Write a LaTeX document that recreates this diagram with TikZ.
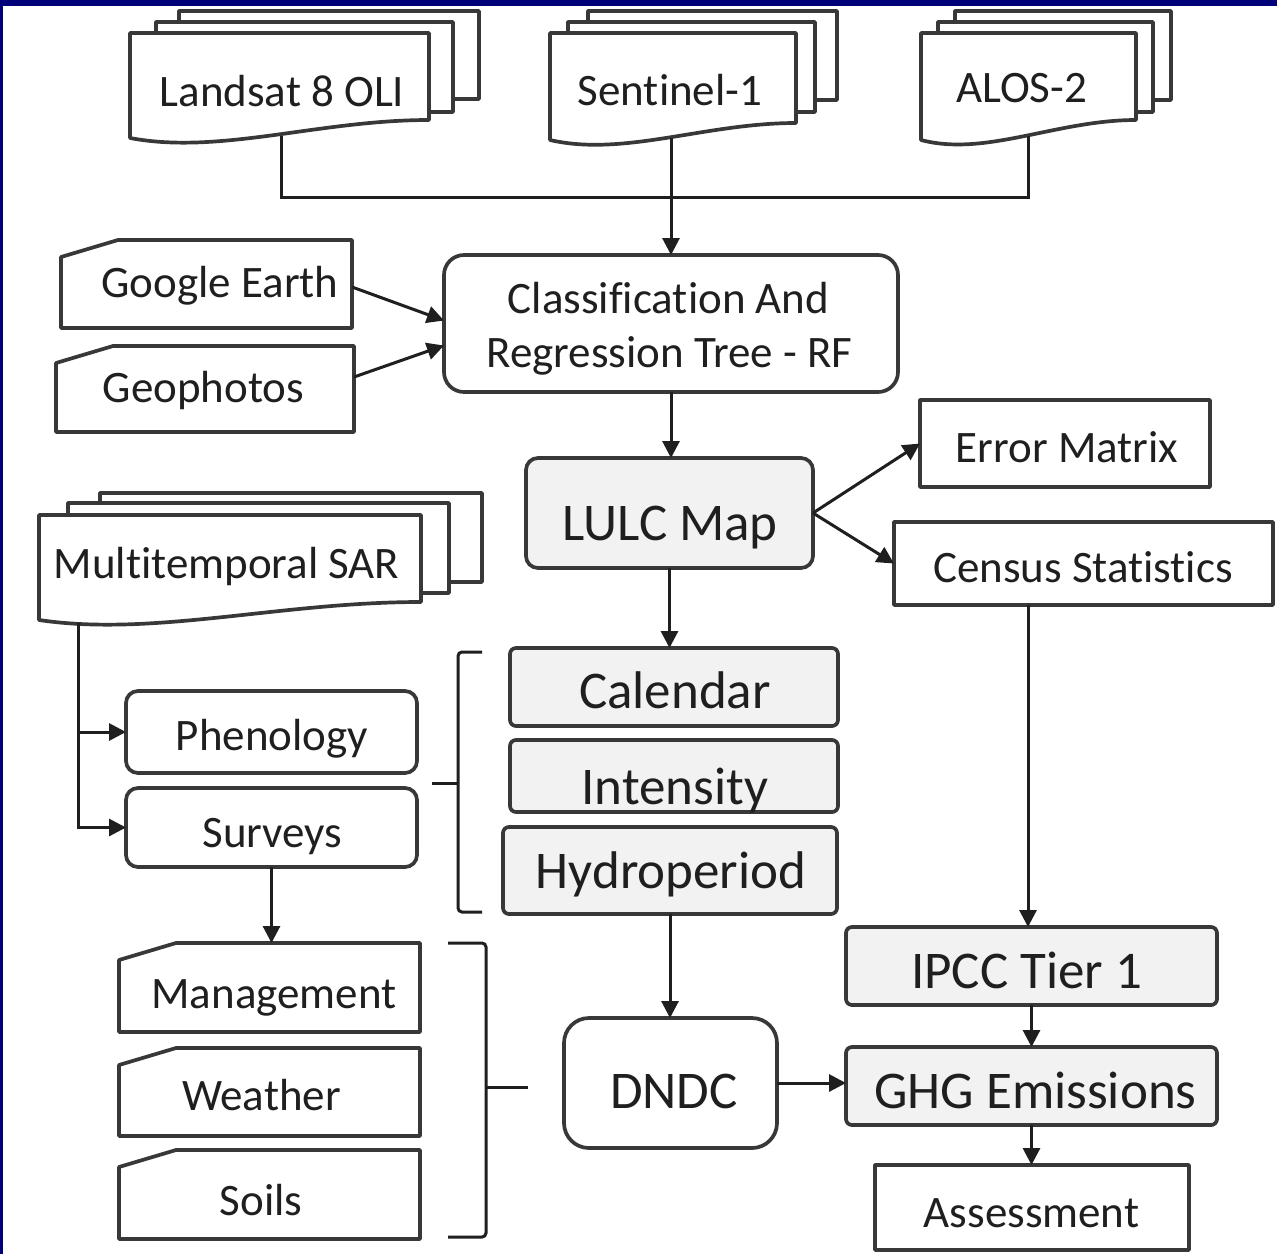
\documentclass[tikz,border=0pt]{standalone}
\usepackage{fontspec}
\setmainfont{Carlito}[Ligatures=NoCommon]
\usetikzlibrary{arrows.meta}
\definecolor{navy}{RGB}{0,0,120}
\definecolor{lgrey}{RGB}{242,242,242}
\newcommand\mksheet[4]{\filldraw[bord,fill=white] (#1,#2) rectangle (#3,#4);}
\newcommand\mkdoc[5]{\filldraw[bord,fill=white] (#1,#2) -- (#3,#2) -- (#3,#4) .. controls ({#1+0.63*(#3-#1)},#4) and ({#1+0.3*(#3-#1)},{#5+17}) .. (#1,#5) -- cycle;}
\newcommand\mkmanual[1]{\filldraw[bord,fill=white] (#1.south west) -- ([yshift=-17pt]#1.north west) -- ([xshift=57pt]#1.north west) -- (#1.north east) -- (#1.south east) -- cycle;}
\begin{document}
\begin{tikzpicture}[x=1pt,y=-1pt,
 bord/.style={draw=black!78,line width=3.7pt,line join=round},
 con/.style={draw=black!88,line width=3pt},
 arr/.style={con,-{Triangle[length=17pt,width=17pt]}},
 fs/.style={font=\fontsize{45}{54}\selectfont},
 fl/.style={font=\fontsize{53}{60}\selectfont},
 lbl/.style={inner sep=0pt,text=black!88,fs,anchor=base},
 lbll/.style={lbl,fl},
 area/.style={inner sep=0pt,outer sep=0pt,draw=none},
 box/.style={area,bord,fill=white},
 gbox/.style={box,fill=lgrey},
]
\useasboundingbox (0,0) rectangle (1277,1254);
\fill[white] (0,0) rectangle (1277,1254);
\fill[navy] (0,0) rectangle (1277,6);
\fill[navy] (0,0) rectangle (2.5,1254);

% top stacks
\mksheet{179}{11}{479}{99}
\mksheet{156}{22}{453}{112}
\mkdoc{130}{33}{429}{120}{138}
\node[lbl] (landsat) at (282,106) {Landsat 8 OLI};
\coordinate (landsatB) at (281,136);

\mksheet{588}{11}{837}{100}
\mksheet{568}{22}{815}{112}
\mkdoc{550}{33}{796}{123}{140}
\node[lbl] (sentinel) at (670,105) {Sentinel-1};
\coordinate (sentinelB) at (671,138);

\mksheet{955}{11}{1171}{100}
\mksheet{938}{22}{1153}{112}
\mkdoc{921}{33}{1136}{120}{140}
\node[lbl] (alos) at (1021.5,102) {ALOS-2};
\coordinate (alosB) at (1028,136);

% SAR stack
\mksheet{100}{493}{482}{582}
\mksheet{68}{503}{449}{593}
\mkdoc{39}{515}{421}{602}{620}
\node[lbl] (sar) at (226.5,578) {Multitemporal SAR};
\coordinate (sarB) at (78,623);

% manual inputs
\node[area,minimum width=291pt,minimum height=88pt] (ge) at (206.5,284) {};
\mkmanual{ge}
\node[area,minimum width=298pt,minimum height=86pt] (geo) at (205,389) {};
\mkmanual{geo}
\node[area,minimum width=301pt,minimum height=89pt] (man) at (269.5,987.5) {};
\mkmanual{man}
\node[area,minimum width=301pt,minimum height=88pt] (wea) at (269.5,1092) {};
\mkmanual{wea}
\node[area,minimum width=301pt,minimum height=89pt] (soi) at (269.5,1194.5) {};
\mkmanual{soi}

% boxes
\node[box,rounded corners=20pt,minimum width=454pt,minimum height=137pt] (cls) at (671,323.5) {};
\node[gbox,rounded corners=12pt,minimum width=287pt,minimum height=110pt] (lulc) at (669.5,513) {};
\node[box,minimum width=290pt,minimum height=87pt] (err) at (1065,443.5) {};
\node[box,minimum width=379pt,minimum height=83pt] (cen) at (1083.5,563.5) {};
\node[box,rounded corners=12pt,minimum width=291pt,minimum height=82pt] (phe) at (271.5,732) {};
\node[box,rounded corners=12pt,minimum width=291pt,minimum height=79pt] (sur) at (271.5,827.5) {};
\node[gbox,rounded corners=6pt,minimum width=328pt,minimum height=78pt] (cal) at (674,687) {};
\node[gbox,rounded corners=6pt,minimum width=328pt,minimum height=72pt] (inte) at (674,776) {};
\node[gbox,rounded corners=6pt,minimum width=334pt,minimum height=87pt] (hyd) at (670,870.5) {};
\node[box,rounded corners=25pt,minimum width=213pt,minimum height=130pt] (dndc) at (670.5,1083) {};
\node[gbox,rounded corners=6pt,minimum width=371pt,minimum height=78pt] (ipcc) at (1031.5,966) {};
\node[gbox,rounded corners=6pt,minimum width=371pt,minimum height=78pt] (ghg) at (1031.5,1086) {};
\node[box,minimum width=314pt,minimum height=85pt] (ass) at (1032,1207.5) {};
\coordinate (cenX) at (1028,0);

% texts
\node[lbl] (geT) at (220,297) {Google Earth};
\node[lbl] (geoT) at (203.5,402) {Geophotos};
\node[lbl] (clsT) at (668.5,313) {Classification And};
\node[lbl] (clsT2) at (669.5,367) {Regression Tree - RF};
\node[lbll] (lulcT) at (670,540) {LULC Map};
\node[lbl] (errT) at (1067,462) {Error Matrix};
\node[lbl] (cenT) at (1083,582) {Census Statistics};
\node[lbl] (pheT) at (272,750) {Phenology};
\node[lbl] (surT) at (272.5,847) {Surveys};
\node[lbl] (manT) at (274,1008) {Management};
\node[lbl] (weaT) at (261.5,1110) {Weather};
\node[lbl] (soiT) at (261,1215) {Soils};
\node[lbll] (calT) at (675,708) {Calendar};
\node[lbll] (intT) at (675,804) {Intensity};
\node[lbll] (hydT) at (671,888) {Hydroperiod};
\node[lbll] (ipccT) at (1026.5,988) {IPCC Tier 1};
\node[lbll] (ghgT) at (1035.5,1108) {GHG Emissions};
\node[lbll] (dndcT) at (674,1108) {DNDC};
\node[lbl] (assT) at (1031.5,1227) {Assessment};

% connectors
\draw[con] (landsatB) -- ++(0,61) -| (alosB);
\draw[arr] (sentinelB) -- (cls.north);
\draw[arr] ([yshift=-3pt]ge.east) -- ([yshift=3pt]cls.west);
\draw[arr] ([yshift=12pt]geo.east) -- ([yshift=-22pt]cls.west);
\draw[arr] (cls.south) -- (cls.south |- lulc.north);
\draw[arr] (lulc.south) -- (lulc.south |- cal.north);
\draw[arr] (lulc.east) -- (err.west);
\draw[arr] (lulc.east) -- (cen.west);
\draw[arr] (cen.south -| cenX) -- (ipcc.north -| cenX);
\draw[arr] (ipcc.south) -- (ghg.north);
\draw[arr] (ghg.south) -- (ghg.south |- ass.north);
\draw[arr] (dndc.east) -- (dndc.east -| ghg.west);
\draw[arr] (hyd.south) -- (hyd.south |- dndc.north);
\draw[arr] (sarB) |- (sur.west);
\draw[arr] (sarB |- phe.west) -- (phe.west);
\draw[arr] (sur.south) -- (sur.south |- man.north);

% braces
\draw[con,rounded corners=4pt] (482,652) -- (458,652) -- (458,912) -- (482,912);
\draw[con] (458,783) -- (432,783);
\draw[con,rounded corners=4pt] (448,943) -- (486,943) -- (486,1237) -- (448,1237);
\draw[con] (486,1087) -- (528,1087);
\end{tikzpicture}
\end{document}
